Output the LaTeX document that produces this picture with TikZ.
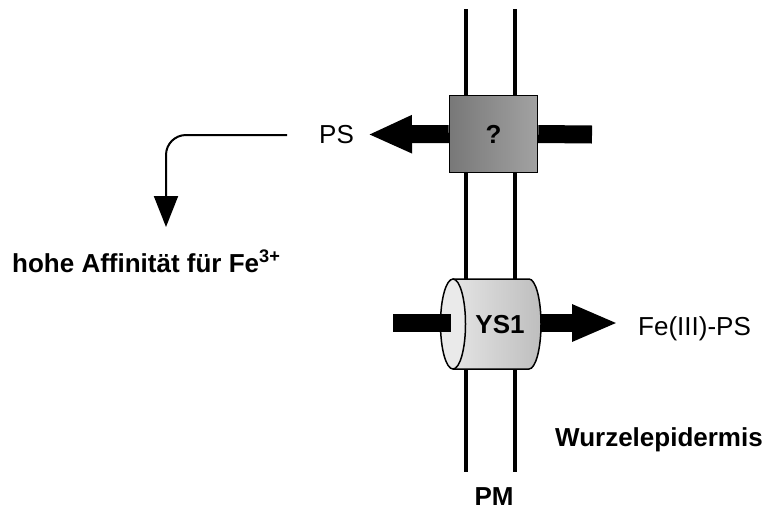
\documentclass[tikz,border=0pt]{standalone}
\usepackage{fontspec}
\setmainfont{Liberation Sans}
\usetikzlibrary{arrows.meta}
\definecolor{boxL}{RGB}{120,120,120}
\definecolor{boxR}{RGB}{162,162,162}
\definecolor{cylL}{RGB}{228,228,228}
\definecolor{cylR}{RGB}{190,190,190}
\definecolor{cylface}{RGB}{234,234,234}
\begin{document}
\begin{tikzpicture}[x=1pt,y=-1pt,
  txt/.style={inner sep=0pt,font=\fontsize{26}{31}\selectfont},
  btxt/.style={inner sep=0pt,font=\fontsize{26}{31}\selectfont\bfseries},
  mem/.style={line width=3.3pt},
  fat/.style={line width=18pt},
  qbox/.style={draw,line width=1.5pt,minimum width=88pt,minimum height=77pt,
    left color=boxL,right color=boxR,font=\fontsize{26}{31}\selectfont\bfseries}]
\useasboundingbox (0,0) rectangle (770,509);

% membrane
\foreach \x in {466,515}
  \draw[mem] (\x,9) -- (\x,472);

% unknown transporter
\node[qbox] (q) at (493.5,134) {?};
\node[txt,anchor=base west] (ps) at (319,143) {PS};
\coordinate (psTip) at (368,134.5);
\coordinate (qIn) at (592,134.5);
\draw[fat] (qIn) -- (q.east);
\draw[fat,-{Triangle[length=44pt,width=35pt]}] (q.west) -- (psTip);

% PS binds iron
\node[btxt,anchor=base west] (aff) at (12,272) {hohe Affinität für Fe\textsuperscript{3+}};
\coordinate (psOut) at (287,135);
\coordinate (affTip) at (166,227);
\draw[line width=2pt,rounded corners=20pt,-{Triangle[length=31pt,width=24pt]}]
  (psOut) -| (affTip);

% YS1 cylinder
\fill[left color=cylL,right color=cylR] (453,279) -- (529,279)
  .. controls (535.6,279) and (541,299.1) .. (541,324)
  .. controls (541,348.9) and (535.6,369) .. (529,369) -- (453,369) -- cycle;
\draw[line width=1.5pt] (453,279) -- (529,279)
  .. controls (535.6,279) and (541,299.1) .. (541,324)
  .. controls (541,348.9) and (535.6,369) .. (529,369) -- (453,369);
\draw[line width=1.5pt,fill=cylface] (453,324) ellipse [x radius=12.5pt,y radius=45pt];
\node[btxt] (ys) at (500,325) {YS1};
\coordinate (ysIn) at (393,323);
\coordinate (cylW) at (451,323);
\coordinate (cylE) at (541,323);
\coordinate (feTip) at (618,323);
\draw[fat] (ysIn) -- (cylW);
\draw[fat,-{Triangle[length=46pt,width=34pt]}] (cylE) -- (feTip);
\node[txt,anchor=base west] (fe) at (638,335) {Fe(III)-PS};

% labels
\node[btxt,anchor=base west] (wz) at (555,446) {Wurzelepidermis};
\node[btxt,anchor=base] (pm) at (494,505) {PM};
\end{tikzpicture}
\end{document}
